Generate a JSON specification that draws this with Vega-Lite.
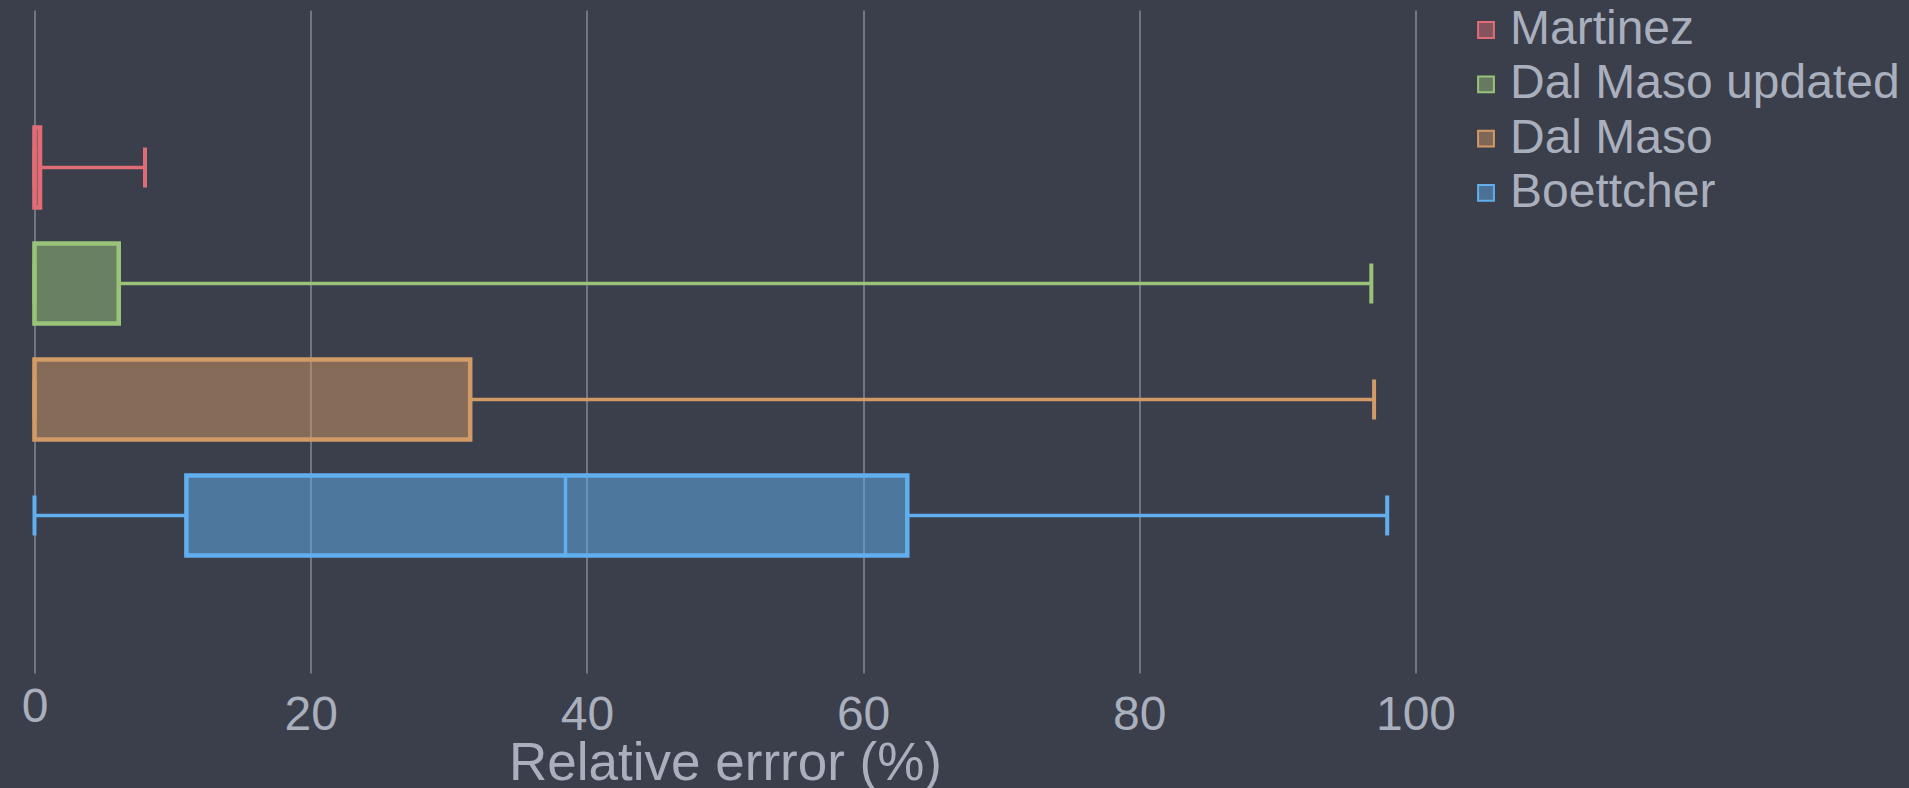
{
  "$schema": "https://vega.github.io/schema/vega-lite/v6.json",
  "width": 1381,
  "height": 663,
  "autosize": {"type": "none"},
  "padding": {"left": 34.5, "top": 10, "right": 493.5, "bottom": 115},
  "background": "#3b3e4b",
  "config": {
    "font": "Liberation Sans",
    "view": {"stroke": null},
    "axisX": {
      "grid": true,
      "gridColor": "#858995",
      "gridWidth": 1.5,
      "domain": false,
      "ticks": false,
      "labelFontSize": 48,
      "labelColor": "#a9afbd",
      "labelFlush": false,
      "labelOverlap": false,
      "labelFont": "Liberation Sans",
      "titleFont": "Liberation Sans",
      "titleFontSize": 53,
      "titleFontWeight": "normal",
      "titleColor": "#a9afbd",
      "titleBaseline": "alphabetic",
      "titleY": 106
    }
  },
  "data": {
    "values": [
      {"model": "Martinez", "min": 0, "q1": 0, "median": 0, "q3": 0.4, "max": 8.0},
      {"model": "Dal Maso updated", "min": 0, "q1": 0, "median": 0, "q3": 6.1, "max": 96.8},
      {"model": "Dal Maso", "min": 0, "q1": 0, "median": 0, "q3": 31.55, "max": 97.0},
      {"model": "Boettcher", "min": 0, "q1": 11.0, "median": 38.45, "q3": 63.2, "max": 97.95}
    ]
  },
  "encoding": {
    "y": {
      "field": "model",
      "type": "nominal",
      "sort": ["Martinez", "Dal Maso updated", "Dal Maso", "Boettcher"],
      "scale": {"paddingInner": 0, "paddingOuter": 0.858},
      "axis": null
    }
  },
  "layer": [
    {
      "mark": {"type": "bar", "size": 80, "fillOpacity": 0.5, "strokeWidth": 4.5},
      "encoding": {
        "x": {
          "field": "q1",
          "type": "quantitative",
          "scale": {"domain": [0, 100], "nice": false},
          "title": "Relative errror (%)",
          "axis": {
            "values": [0, 20, 40, 60, 80, 100],
            "labelPadding": {"condition": {"test": "datum.value === 0", "value": 10}, "value": 18}
          }
        },
        "x2": {"field": "q3"},
        "color": {
          "field": "model",
          "type": "nominal",
          "scale": {
            "domain": ["Martinez", "Dal Maso updated", "Dal Maso", "Boettcher"],
            "range": ["#e06c75", "#98c379", "#d19a66", "#61afef"]
          },
          "legend": {
            "orient": "none",
            "legendX": 1427.5,
            "legendY": -4,
            "title": null,
            "padding": 0,
            "symbolType": "square",
            "symbolSize": 250,
            "symbolStrokeWidth": 2,
            "labelFontSize": 48,
            "labelColor": "#a9afbd",
            "labelFont": "Liberation Sans",
            "labelOffset": 0,
            "rowPadding": 6.3,
            "labelLimit": 600,
            "encode": {
              "symbols": {
                "update": {
                  "fillOpacity": {"value": 0.45},
                  "stroke": {"scale": "color", "field": "value"},
                  "strokeWidth": {"value": 2}
                }
              }
            }
          }
        },
        "stroke": {
          "field": "model",
          "type": "nominal",
          "scale": {
            "domain": ["Martinez", "Dal Maso updated", "Dal Maso", "Boettcher"],
            "range": ["#e06c75", "#98c379", "#d19a66", "#61afef"]
          },
          "legend": null
        }
      }
    },
    {
      "mark": {"type": "rule", "strokeWidth": 3.5},
      "encoding": {
        "x": {"field": "min", "type": "quantitative", "title": "Relative errror (%)",
          "axis": {"values": [0, 20, 40, 60, 80, 100], "labelPadding": {"condition": {"test": "datum.value === 0", "value": 10}, "value": 18}}},
        "x2": {"field": "q1"},
        "color": {"field": "model", "type": "nominal"}
      }
    },
    {
      "mark": {"type": "rule", "strokeWidth": 3.5},
      "encoding": {
        "x": {"field": "q3", "type": "quantitative", "title": "Relative errror (%)",
          "axis": {"values": [0, 20, 40, 60, 80, 100], "labelPadding": {"condition": {"test": "datum.value === 0", "value": 10}, "value": 18}}},
        "x2": {"field": "max"},
        "color": {"field": "model", "type": "nominal"}
      }
    },
    {
      "mark": {"type": "tick", "size": 80, "thickness": 3.5, "opacity": 1},
      "encoding": {
        "x": {"field": "median", "type": "quantitative", "title": "Relative errror (%)",
          "axis": {"values": [0, 20, 40, 60, 80, 100], "labelPadding": {"condition": {"test": "datum.value === 0", "value": 10}, "value": 18}}},
        "color": {"field": "model", "type": "nominal"}
      }
    },
    {
      "mark": {"type": "tick", "size": 40, "thickness": 4, "opacity": 1},
      "encoding": {
        "x": {"field": "min", "type": "quantitative", "title": "Relative errror (%)",
          "axis": {"values": [0, 20, 40, 60, 80, 100], "labelPadding": {"condition": {"test": "datum.value === 0", "value": 10}, "value": 18}}},
        "color": {"field": "model", "type": "nominal"}
      }
    },
    {
      "mark": {"type": "tick", "size": 40, "thickness": 4, "opacity": 1},
      "encoding": {
        "x": {"field": "max", "type": "quantitative", "title": "Relative errror (%)",
          "axis": {"values": [0, 20, 40, 60, 80, 100], "labelPadding": {"condition": {"test": "datum.value === 0", "value": 10}, "value": 18}}},
        "color": {"field": "model", "type": "nominal"}
      }
    }
  ]
}
